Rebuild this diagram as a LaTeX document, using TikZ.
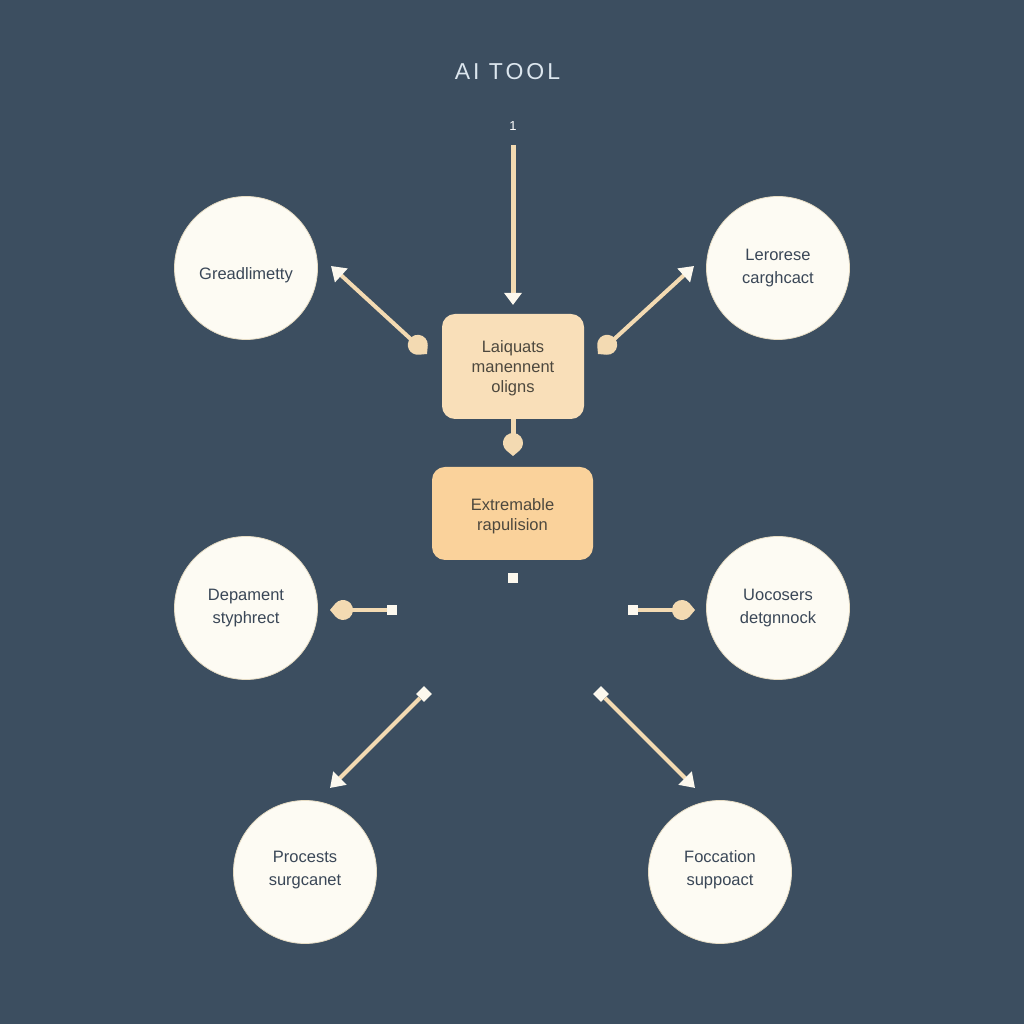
\documentclass[tikz,border=0pt]{standalone}
\usepackage{fontspec}
\setmainfont{Liberation Sans}
\newfontfamily\titlefont[LetterSpace=13]{Liberation Sans}
\usetikzlibrary{arrows.meta}

\definecolor{slatebg}{HTML}{3C4E60}
\definecolor{wirebeige}{HTML}{F3DAB2}
\definecolor{tipcream}{HTML}{FCF8EE}
\definecolor{circlefill}{HTML}{FDFBF3}
\definecolor{circleedge}{HTML}{E6DCC4}
\definecolor{boxlight}{HTML}{F9DFB9}
\definecolor{boxdeep}{HTML}{FAD29B}
\definecolor{inkblue}{HTML}{3A4757}
\definecolor{inkbrown}{HTML}{4D483E}
\definecolor{titleblue}{HTML}{DCE6EE}

\newcommand{\nudge}[2]{\raisebox{#1}[\height][\depth]{#2}}

\tikzset{
	wire/.style={draw=wirebeige, line width=4pt},
	wiretip/.style={wire, -{Triangle[length=14pt,width=18pt,color=tipcream]}},
	topic/.style={circle, fill=circlefill, draw=circleedge, line width=0.8pt, minimum size=143pt, inner sep=0pt, align=center, text=inkblue, font=\fontsize{16.5}{23}\selectfont},
	card/.style={rectangle, rounded corners=13pt, draw=none, inner sep=0pt, align=center, text=inkbrown, font=\fontsize{16.5}{20}\selectfont},
	endsquare/.style={rectangle, fill=tipcream, inner sep=0pt, minimum size=10pt},
	hearttip/.pic={\fill[wirebeige] (0,0) -- (-5.31,6.39) arc (39.7:320.3:10) -- cycle;},
}

\begin{document}
\begin{tikzpicture}[x=1pt, y=1pt]

	\fill[slatebg] (0,0) rectangle (1024,1024);

	\node[text=titleblue, font=\titlefont\fontsize{23}{26}\selectfont] (title) at (507.5,952) {AI TOOL};
	\node[text=white, font=\fontsize{13}{15}\selectfont] (number) at (513,898) {1};

	%% the two centre boxes
	\node[card, fill=boxlight, minimum width=142pt, minimum height=105pt] (language) at (513,657.5) {\nudge{-2pt}{Laiquats}\\\nudge{-2pt}{manennent}\\\nudge{-2pt}{oligns}};
	\node[card, fill=boxdeep, minimum width=161pt, minimum height=93pt] (extreme) at (512.5,510.5) {\nudge{-3pt}{Extremable}\\\nudge{-3pt}{rapulision}};

	%% the circles
	\node[topic] (gread) at (246,756) {\nudge{-7pt}{Greadlimetty}};
	\node[topic] (lerose) at (778,756) {Lerorese\\carghcact};
	\node[topic] (depa) at (246,416) {Depament\\styphrect};
	\node[topic] (uco) at (778,416) {Uocosers\\detgnnock};
	\node[topic] (proc) at (305,152) {\nudge{2pt}{Procests}\\\nudge{2pt}{surgcanet}};
	\node[topic] (foca) at (720,152) {\nudge{2pt}{Foccation}\\\nudge{2pt}{suppoact}};

	%% the small squares
	\node[endsquare] (sqmid) at (513,446) {};
	\node[endsquare] (sqleft) at (392,414) {};
	\node[endsquare] (sqright) at (633,414) {};
	\node[endsquare, rotate=45, minimum size=11pt] (sqlow) at (424,330) {};
	\node[endsquare, rotate=45, minimum size=11pt] (sqlowr) at (601,330) {};

	\coordinate (Top) at (513,879);
	\coordinate (TopEnd) at (513,719);
	\coordinate (TipG) at (331,758);
	\coordinate (TipL) at (694,758);
	\coordinate (HeartG) at (427,670);
	\coordinate (HeartL) at (598,670);
	\coordinate (HeartD) at (513,568);
	\coordinate (HeartDep) at (330,414);
	\coordinate (HeartUco) at (695,414);
	\coordinate (TipP) at (330,236);
	\coordinate (TipF) at (695,236);

	\draw[wiretip, line width=5pt, -{Triangle[length=12pt,width=17pt,color=tipcream]}] (Top) -- (TopEnd);

	\draw[wiretip, shorten <=8pt] (HeartG) -- (TipG);
	\draw[wiretip, shorten <=8pt] (HeartL) -- (TipL);
	\pic[rotate=-45] at (HeartG) {hearttip};
	\pic[rotate=-135] at (HeartL) {hearttip};

	\draw[wire, line width=5pt, shorten >=8pt] (language) -- (HeartD);
	\pic[rotate=-90] at (HeartD) {hearttip};

	\draw[wire, shorten >=8pt] (sqleft) -- (HeartDep);
	\draw[wire, shorten >=8pt] (sqright) -- (HeartUco);
	\pic[rotate=180] at (HeartDep) {hearttip};
	\pic at (HeartUco) {hearttip};

	\draw[wiretip] (sqlow) -- (TipP);
	\draw[wiretip] (sqlowr) -- (TipF);

\end{tikzpicture}
\end{document}
